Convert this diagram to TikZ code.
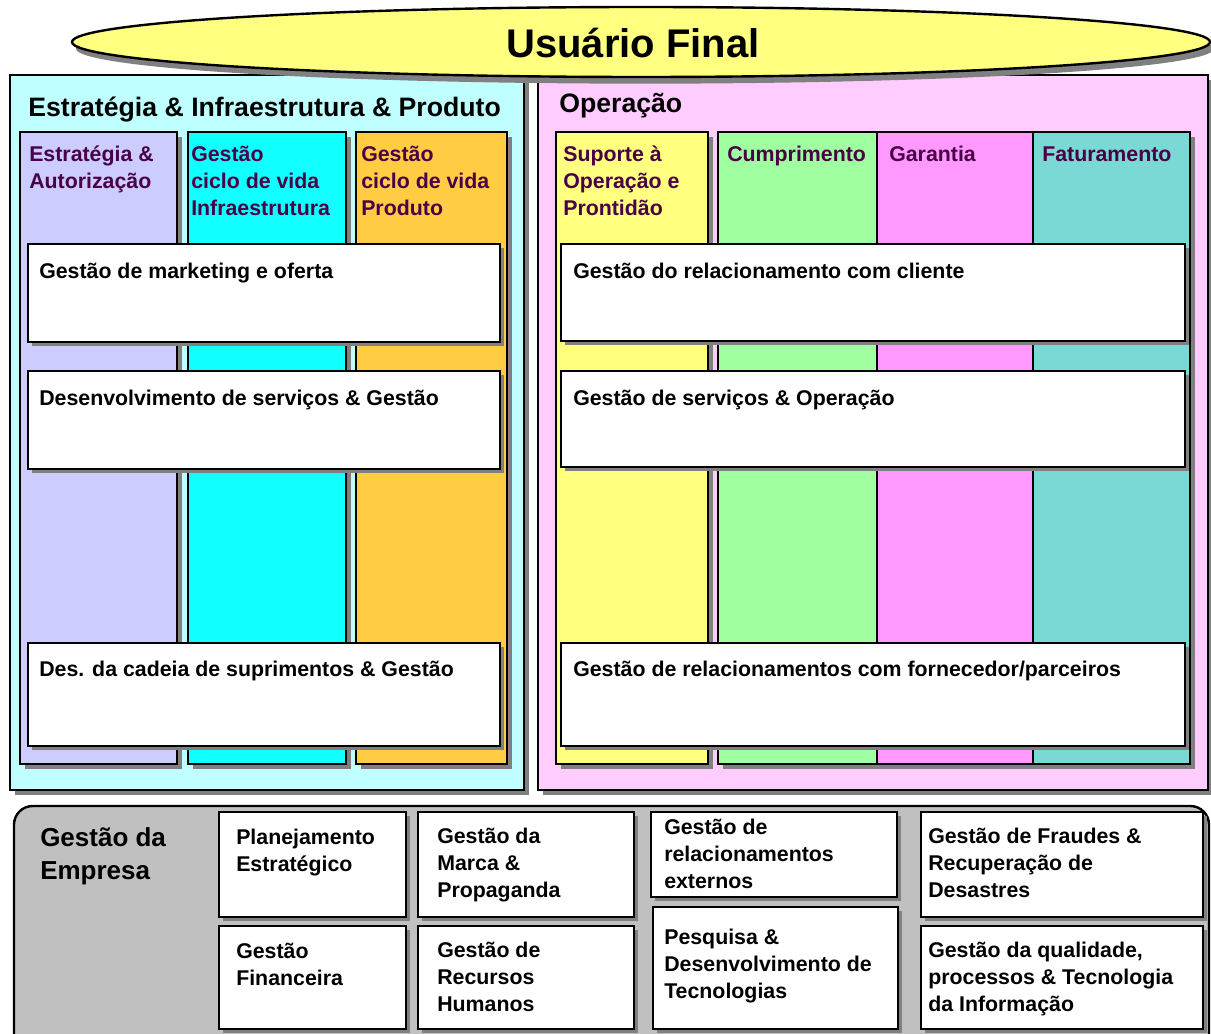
\documentclass[tikz,border=0pt]{standalone}
\usepackage{fontspec}
\setmainfont{Liberation Sans}
\usetikzlibrary{shapes.geometric,shadows,fit}
\definecolor{shgray}{HTML}{808080}
\definecolor{ellyellow}{HTML}{FFFF80}
\definecolor{cyanlt}{HTML}{C0FFFF}
\definecolor{lavender}{HTML}{CCCCFF}
\definecolor{cyanfull}{HTML}{10FFFF}
\definecolor{orangecol}{HTML}{FFCC44}
\definecolor{pinklt}{HTML}{FFCCFF}
\definecolor{yellowcol}{HTML}{FFFF80}
\definecolor{greencol}{HTML}{A0FFA0}
\definecolor{pinkcol}{HTML}{FF99FF}
\definecolor{tealcol}{HTML}{7AD9D4}
\definecolor{panelgray}{HTML}{C0C0C0}
\definecolor{txtpurple}{HTML}{4A0046}
\begin{document}
\begin{tikzpicture}[x=0.75pt,y=-0.75pt,
  pbox/.style={draw=black, line width=1.8pt, inner sep=0pt},
  sh/.style={general shadow={fill=shgray, shadow xshift=#1, shadow yshift=-#1}},
  sh/.default=3.75pt,
  coltxt/.style={font=\fontsize{16}{20.25}\selectfont\bfseries, text=txtpurple, align=left, inner sep=0pt, anchor=base west},
  bartxt/.style={font=\fontsize{16}{20.25}\selectfont\bfseries, text=black, align=left, inner sep=0pt, anchor=base west},
  bottxt/.style={font=\fontsize{16}{20}\selectfont\bfseries, text=black, align=left, inner sep=0pt, anchor=base west},
  ttltxt/.style={font=\fontsize{20}{24}\selectfont\bfseries, text=black, align=left, inner sep=0pt, anchor=base west}]
\clip (0,0) rectangle (1211,1034);

% ---------- left panel ----------
\node[pbox, sh, fill=cyanlt, fit={(10,75) (524,790)}] (lp) {};
\node[ttltxt] (lpt) at (28,117) {Estratégia \& Infraestrutura \& Produto};
\node[pbox, sh, fill=lavender, fit={(20,132) (177,764)}] (c1) {};
\node[pbox, sh, fill=cyanfull, fit={(188,132) (346,764)}] (c2) {};
\node[pbox, sh, fill=orangecol, fit={(356,132) (507,764)}] (c3) {};
% base anchor of a multi-line node = baseline of its last line
\node[coltxt] (c1t) at (29,189) {Estratégia \&\\Autorização};
\node[coltxt] (c2t) at (191,216) {Gestão\\ciclo de vida\\Infraestrutura};
\node[coltxt] (c3t) at (361,216) {Gestão\\ciclo de vida\\Produto};

\node[pbox, sh=3pt, fill=white, fit={(28,244) (500,342)}] (lb1) {};
\node[pbox, sh=3pt, fill=white, fit={(28,371) (500,469)}] (lb2) {};
\node[pbox, sh=3pt, fill=white, fit={(28,643) (500,746)}] (lb3) {};
\node[bartxt] (lb1t) at (39,279) {Gestão de marketing e oferta};
\node[bartxt] (lb2t) at (39,406) {Desenvolvimento de serviços \& Gestão};
\node[bartxt] (lb3t) at (39,676) {Des. da cadeia de suprimentos \& Gestão};

% ---------- right panel ----------
\node[pbox, sh, fill=pinklt, fit={(538,75) (1208,790)}] (rp) {};
\node[ttltxt] (rpt) at (559,113) {Operação};
\node[pbox, sh, fill=yellowcol, fit={(556,132) (708,764)}] (r1) {};
\node[pbox, sh, fill=greencol, fit={(718,132) (877,764)}] (r2) {};
\node[pbox, sh, fill=pinkcol, fit={(877,132) (1033,764)}] (r3) {};
\node[pbox, sh, fill=tealcol, fit={(1033,132) (1190,764)}] (r4) {};
\node[coltxt] (r1t) at (563,216) {Suporte à\\Operação e\\Prontidão};
\node[coltxt] (r2t) at (727,162) {Cumprimento};
\node[coltxt] (r3t) at (889,162) {Garantia};
\node[coltxt] (r4t) at (1042,162) {Faturamento};

\node[pbox, sh=3pt, fill=white, fit={(561,244) (1185,341)}] (rb1) {};
\node[pbox, sh=3pt, fill=white, fit={(561,371) (1185,467)}] (rb2) {};
\node[pbox, sh=3pt, fill=white, fit={(561,643) (1185,746)}] (rb3) {};
\node[bartxt] (rb1t) at (573,279) {Gestão do relacionamento com cliente};
\node[bartxt] (rb2t) at (573,406) {Gestão de serviços \& Operação};
\node[bartxt] (rb3t) at (573,676) {Gestão de relacionamentos com fornecedor/parceiros};

% ---------- top ellipse ----------
\node[ellipse, draw=black, line width=1.8pt, fill=ellyellow, inner sep=0pt,
      minimum width=853.5pt, minimum height=52.5pt,
      general shadow={fill=shgray, shadow xshift=3pt, shadow yshift=-5pt}] (user) at (641,42) {};
\node[font=\fontsize{30}{35}\selectfont\bfseries, inner sep=0pt, anchor=base] (usert) at (633,58) {Usuário Final};

% ---------- bottom panel ----------
\node[draw=black, line width=1.8pt, fill=panelgray, rounded corners=14pt, inner sep=0pt, fit={(14,806) (1209,1080)}] (ent) {};
\node[font=\fontsize{19.5}{24.5}\selectfont\bfseries, align=left, inner sep=0pt, anchor=base west] (entt) at (40,879) {Gestão da\\Empresa};

\node[pbox, sh=3pt, fill=white, fit={(219,812) (406,917)}] (b1) {};
\node[pbox, sh=3pt, fill=white, fit={(418,812) (634,917)}] (b2) {};
\node[pbox, sh=3pt, fill=white, fit={(651,812) (897,897)}] (b3) {};
\node[pbox, sh=3pt, fill=white, fit={(921,812) (1203,917)}] (b4) {};
\node[pbox, sh=3pt, fill=white, fit={(219,926) (406,1029)}] (b5) {};
\node[pbox, sh=3pt, fill=white, fit={(418,926) (634,1029)}] (b6) {};
\node[pbox, sh=3pt, fill=white, fit={(653,907) (898,1029)}] (b7) {};
\node[pbox, sh=3pt, fill=white, fit={(921,926) (1203,1029)}] (b8) {};

\node[bottxt] (b1t) at (236,871) {Planejamento\\Estratégico};
\node[bottxt] (b2t) at (437,897) {Gestão da\\Marca \&\\Propaganda};
\node[bottxt] (b3t) at (664,888) {Gestão de\\relacionamentos\\externos};
\node[bottxt] (b4t) at (928,897) {Gestão de Fraudes \&\\Recuperação de\\Desastres};
\node[bottxt] (b5t) at (236,985) {Gestão\\Financeira};
\node[bottxt] (b6t) at (437,1011) {Gestão de\\Recursos\\Humanos};
\node[bottxt] (b7t) at (664,998) {Pesquisa \&\\Desenvolvimento de\\Tecnologias};
\node[bottxt] (b8t) at (928,1011) {Gestão da qualidade,\\processos \& Tecnologia\\da Informação};
\end{tikzpicture}
\end{document}
